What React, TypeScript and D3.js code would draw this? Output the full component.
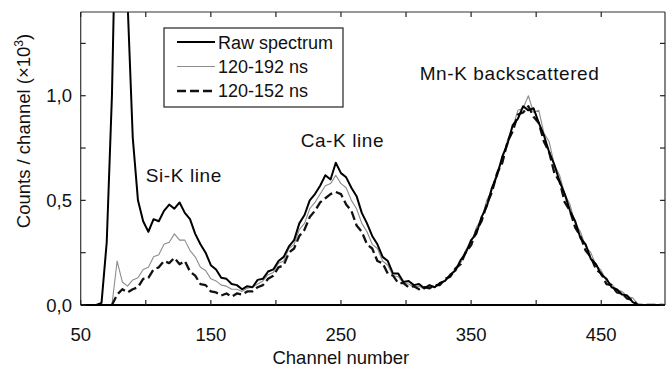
import React from "react";
import * as d3 from "d3";

// Channel grid (x categories)
const channels: number[] = d3.range(50, 499, 4);

const rawSpectrum: (number | null)[] = [
  0, 0, 0, 0, 0.01, 0.3, 1.0, 2.2, 3.0, 1.45,
  0.8, 0.5, 0.4, 0.35, 0.41, 0.4, 0.45, 0.48, 0.46, 0.49,
  0.44, 0.41, 0.34, 0.29, 0.25, 0.19, 0.17, 0.13, 0.125, 0.1,
  0.095, 0.075, 0.09, 0.085, 0.12, 0.125, 0.16, 0.17, 0.21, 0.23,
  0.28, 0.31, 0.39, 0.43, 0.5, 0.53, 0.57, 0.62, 0.6, 0.68,
  0.63, 0.61, 0.56, 0.52, 0.44, 0.39, 0.33, 0.29, 0.23, 0.21,
  0.15, 0.15, 0.11, 0.115, 0.095, 0.1, 0.08, 0.095, 0.085, 0.105,
  0.115, 0.145, 0.165, 0.215, 0.25, 0.31, 0.34, 0.42, 0.47, 0.56,
  0.62, 0.71, 0.77, 0.86, 0.89, 0.95, 0.93, 0.94, 0.87, 0.81,
  0.73, 0.67, 0.59, 0.53, 0.45, 0.4, 0.32, 0.29, 0.22, 0.195,
  0.145, 0.125, 0.085, 0.075, 0.05, 0.045, 0.015, 0, 0, 0,
  0, 0, 0,
];

const gate120_192: (number | null)[] = [
  null, null, null, null, null, null, 0, 0.21, 0.11, 0.09,
  0.12, 0.13, 0.17, 0.18, 0.23, 0.24, 0.29, 0.3, 0.34, 0.31,
  0.31, 0.26, 0.23, 0.18, 0.165, 0.125, 0.115, 0.095, 0.09, 0.075,
  0.075, 0.065, 0.08, 0.085, 0.1, 0.115, 0.145, 0.155, 0.2, 0.21,
  0.27, 0.29, 0.36, 0.39, 0.46, 0.49, 0.53, 0.57, 0.58, 0.62,
  0.58, 0.56, 0.5, 0.46, 0.39, 0.35, 0.29, 0.27, 0.21, 0.19,
  0.14, 0.135, 0.105, 0.1, 0.085, 0.09, 0.075, 0.09, 0.085, 0.1,
  0.12, 0.135, 0.175, 0.2, 0.265, 0.295, 0.37, 0.41, 0.5, 0.55,
  0.64, 0.69, 0.79, 0.85, 0.93, 0.94, 1.0, 0.92, 0.93, 0.82,
  0.78, 0.67, 0.62, 0.53, 0.48, 0.39, 0.35, 0.28, 0.25, 0.19,
  0.165, 0.115, 0.1, 0.07, 0.065, 0.04, 0.035, 0.005, 0, 0,
  0, 0, 0,
];

const gate120_152: (number | null)[] = [
  null, null, null, null, null, null, 0, 0.05, 0.075, 0.06,
  0.075, 0.085, 0.125, 0.13, 0.17, 0.18, 0.21, 0.2, 0.225, 0.195,
  0.21, 0.16, 0.14, 0.1, 0.095, 0.065, 0.06, 0.045, 0.055, 0.04,
  0.055, 0.05, 0.065, 0.065, 0.085, 0.095, 0.125, 0.14, 0.18, 0.19,
  0.25, 0.27, 0.33, 0.36, 0.42, 0.45, 0.49, 0.51, 0.53, 0.54,
  0.53, 0.48, 0.45, 0.38, 0.35, 0.29, 0.27, 0.21, 0.2, 0.15,
  0.14, 0.105, 0.105, 0.085, 0.09, 0.075, 0.085, 0.08, 0.095, 0.095,
  0.125, 0.135, 0.175, 0.195, 0.255, 0.285, 0.355, 0.4, 0.48, 0.54,
  0.63, 0.68, 0.78, 0.83, 0.91, 0.92, 0.95, 0.9, 0.87, 0.78,
  0.73, 0.63, 0.59, 0.49, 0.45, 0.37, 0.33, 0.26, 0.23, 0.17,
  0.15, 0.1, 0.095, 0.06, 0.055, 0.03, 0.025, 0, 0, 0,
  0, 0, 0,
];

const xTickValues = [50, 100, 150, 200, 250, 300, 350, 400, 450];
const xTickLabels = ["50", "", "150", "", "250", "", "350", "", "450"];
const yTickValues = [0, 0.25, 0.5, 0.75, 1.0, 1.25];
const yTickLabels = ["0,0", "", "0,5", "", "1,0", ""];

const legendLabels = ["Raw spectrum", "120-192 ns", "120-152 ns"];
const annotations = [
  { text: "Si-K line", ch: 100, v: 0.59 },
  { text: "Ca-K line", ch: 219, v: 0.755 },
  { text: "Mn-K backscattered", ch: 310.5, v: 1.077 },
];

const W = 666;
const H = 369;
const L = 80.7;
const R = 665;
const T = 12;
const B = 305;
const FONT = "'Liberation Sans', Arial, sans-serif";

export default function App() {
  const x = d3.scaleLinear().domain([50, 499]).range([L, R]);
  const y = d3.scaleLinear().domain([0, 1.4]).range([B, T]);

  const mk = (vals: (number | null)[]) =>
    d3
      .line<number>()
      .defined((_, i) => vals[i] !== null)
      .x((c) => x(c))
      .y((_, i) => y(vals[i] as number))(channels) || "";

  const series = [
    { vals: gate120_192, stroke: "#8c8c8c", width: 1.1, dash: undefined as string | undefined },
    { vals: gate120_152, stroke: "#111", width: 2.3, dash: "9,4" },
    { vals: rawSpectrum, stroke: "#000", width: 2, dash: undefined as string | undefined },
  ];

  const legend = [
    { stroke: "#000", width: 2, dash: undefined as string | undefined },
    { stroke: "#8c8c8c", width: 1.1, dash: undefined as string | undefined },
    { stroke: "#111", width: 2.3, dash: "9,4" },
  ];

  const tickLen = 5;

  return (
    <svg
      width={W}
      height={H}
      style={{ position: "absolute", left: 0, top: 0, background: "#fff" }}
      fontFamily={FONT}
    >
      <defs>
        <clipPath id="plotClip">
          <rect x={L} y={T} width={R - L} height={B - T} />
        </clipPath>
      </defs>
      <rect x={0} y={0} width={W} height={H} fill="#fff" />

      <g clipPath="url(#plotClip)">
        {series.map((s, i) => (
          <path
            key={i}
            d={mk(s.vals)}
            fill="none"
            stroke={s.stroke}
            strokeWidth={s.width}
            strokeDasharray={s.dash}
            strokeLinejoin="round"
          />
        ))}
      </g>

      {/* frame */}
      <line x1={L} x2={L} y1={T} y2={B} stroke="#333" strokeWidth={1.2} />
      <line x1={R} x2={R} y1={T} y2={B} stroke="#333" strokeWidth={1.2} />
      <line x1={L} x2={R} y1={T} y2={T} stroke="#333" strokeWidth={1.2} />
      <line x1={L} x2={R} y1={B} y2={B} stroke="#000" strokeWidth={2} />

      {/* x ticks */}
      {xTickValues.map((v, i) => (
        <g key={"xt" + i}>
          <line x1={x(v)} x2={x(v)} y1={B} y2={B - tickLen} stroke="#222" strokeWidth={1.2} />
          <line x1={x(v)} x2={x(v)} y1={T} y2={T + tickLen} stroke="#222" strokeWidth={1.2} />
          {xTickLabels[i] && (
            <text x={x(v)} y={341} textAnchor="middle" fontSize={18.5} fill="#111">
              {xTickLabels[i]}
            </text>
          )}
        </g>
      ))}

      {/* y ticks */}
      {yTickValues.map((v, i) => (
        <g key={"yt" + i}>
          <line x1={L} x2={L + tickLen} y1={y(v)} y2={y(v)} stroke="#222" strokeWidth={1.2} />
          <line x1={R} x2={R - tickLen} y1={y(v)} y2={y(v)} stroke="#222" strokeWidth={1.2} />
          {yTickLabels[i] && (
            <text x={72} y={y(v) + 6.5} textAnchor="end" fontSize={18.5} fill="#111">
              {yTickLabels[i]}
            </text>
          )}
        </g>
      ))}

      {/* axis titles */}
      <text x={(L + R) / 2 - 32} y={364} textAnchor="middle" fontSize={18.5} fill="#111">
        Channel number
      </text>
      <text
        transform={`translate(30, ${131}) rotate(-90)`}
        textAnchor="middle"
        fontSize={18.5}
        fill="#111"
      >
        Counts / channel (×10
        <tspan dy={-7} fontSize={12}>3</tspan>
        <tspan dy={7}>)</tspan>
      </text>

      {/* annotations */}
      {annotations.map((a, i) => (
        <text key={"an" + i} x={x(a.ch)} y={y(a.v)} fontSize={19} letterSpacing={0.6} fill="#111">
          {a.text}
        </text>
      ))}

      {/* legend */}
      <rect x={164} y={28} width={179} height={79} fill="#fff" stroke="#222" strokeWidth={1.2} />
      {legendLabels.map((lab, i) => (
        <g key={"lg" + i}>
          <line
            x1={177}
            x2={215}
            y1={42 + i * 24.5}
            y2={42 + i * 24.5}
            stroke={legend[i].stroke}
            strokeWidth={legend[i].width}
            strokeDasharray={legend[i].dash}
          />
          <text x={218} y={49 + i * 24} fontSize={18} fill="#111">
            {lab}
          </text>
        </g>
      ))}
    </svg>
  );
}
